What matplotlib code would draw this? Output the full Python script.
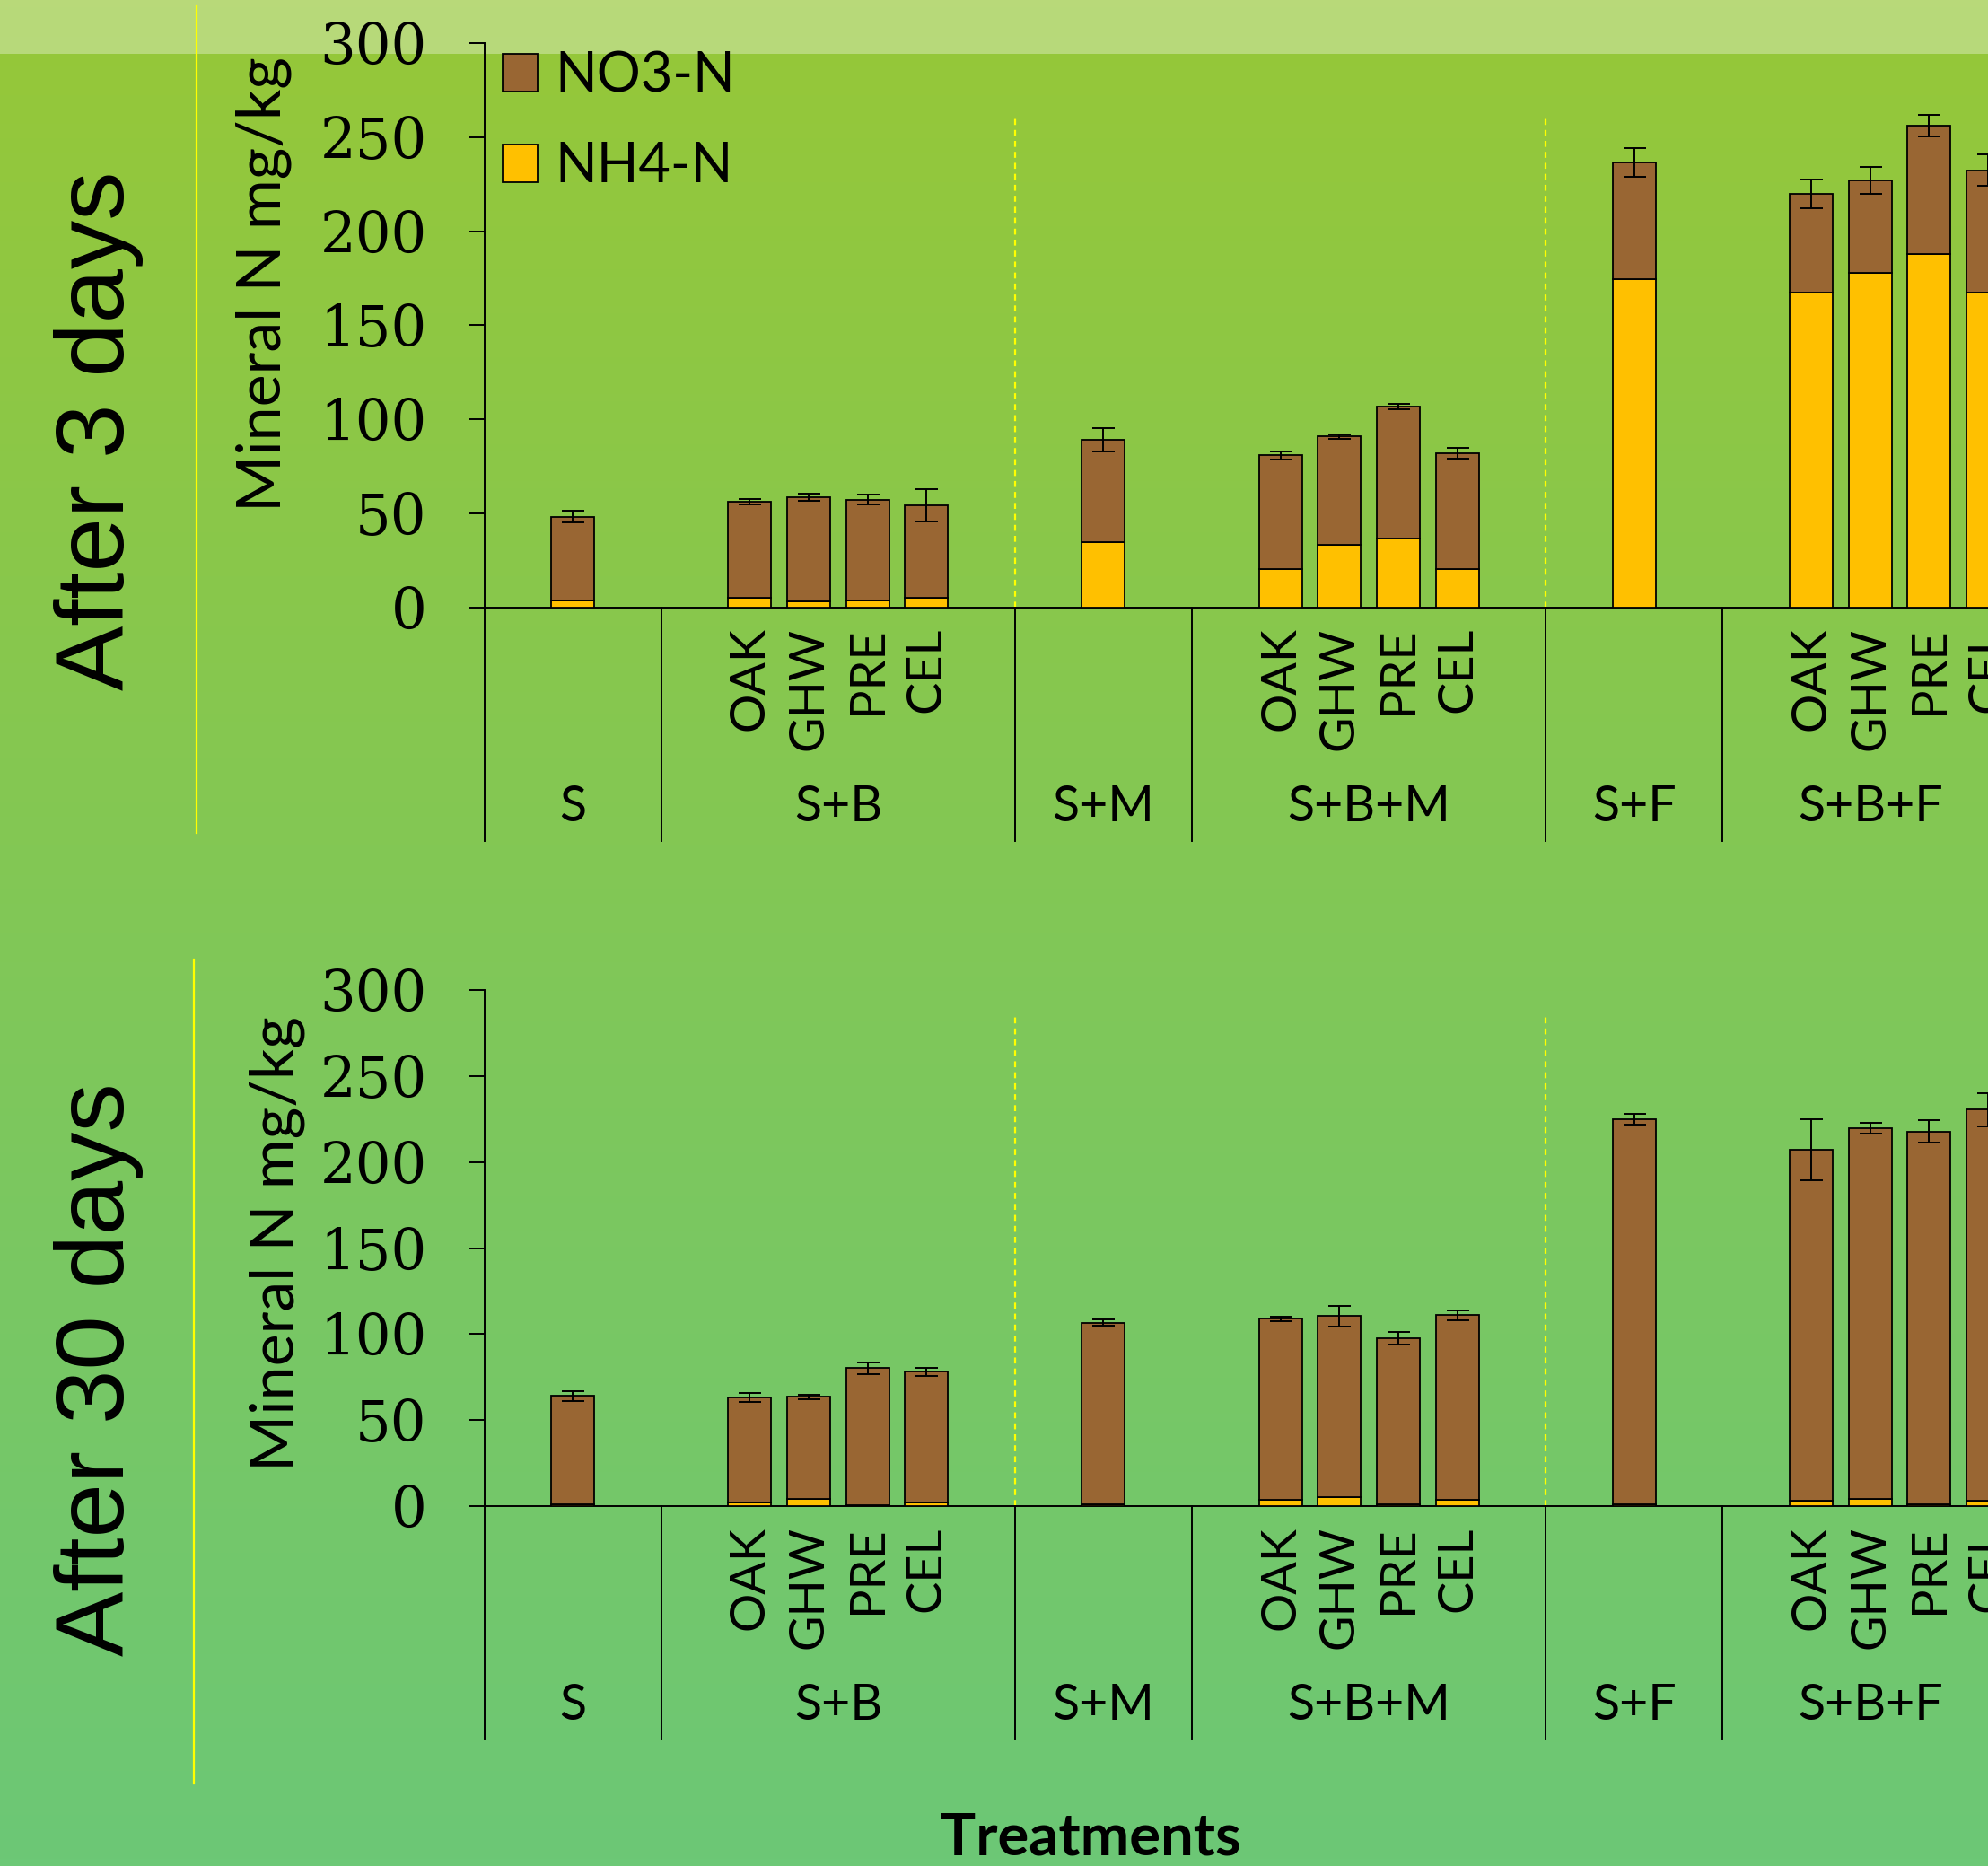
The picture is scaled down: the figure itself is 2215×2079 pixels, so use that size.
import numpy as np
import matplotlib.pyplot as plt
import matplotlib.transforms as mtransforms
from matplotlib.patches import Patch, Rectangle
from matplotlib.lines import Line2D

# =========================
# DATA (mg/kg)
# =========================
groups = ["S", "S+B", "S+M", "S+B+M", "S+F", "S+B+F"]
group_sizes = [3, 6, 3, 6, 3, 5]
biochars = ["OAK", "GHW", "PRE", "CEL"]

# after 3 days
nh4_3d = [3.8, 5.1, 3.2, 3.5, 4.8, 34.4, 20.4, 33.4, 36.6, 20.4, 174.6, 167.1, 177.7, 187.6, 167.1]
no3_3d = [44.3, 50.9, 55.5, 53.6, 49.3, 54.6, 60.3, 57.3, 70.0, 61.5, 62.0, 52.8, 49.4, 68.5, 65.2]
err_3d = [3.2, 1.3, 1.9, 2.6, 8.7, 6.4, 2.1, 1.1, 1.5, 2.9, 7.8, 7.5, 7.1, 5.7, 8.3]

# after 30 days
nh4_30d = [1.2, 2.1, 4.3, 0.5, 2.1, 1.2, 3.5, 5.3, 1.2, 3.5, 1.2, 3.3, 3.9, 0.8, 3.3]
no3_30d = [62.8, 61.1, 59.3, 79.6, 76.1, 105.5, 105.3, 105.1, 96.5, 107.4, 223.6, 204.0, 216.0, 217.0, 227.1]
err_30d = [2.8, 2.5, 1.3, 3.4, 2.3, 1.9, 1.5, 5.9, 3.7, 3.1, 3.0, 17.8, 3.1, 6.7, 9.6]

yticks = [0, 50, 100, 150, 200, 250, 300]

# =========================
# STYLE
# =========================
W, H, DPI = 2215, 2079, 100
C_NO3 = "#996633"
C_NH4 = "#FFC000"
SANS = ["Lato", "DejaVu Sans"]
SERIF = ["DejaVu Serif"]

# slot positions of the bars (excel-like multi level axis)
positions, sublabels, boundaries, centers = [], [], [], []
start = 0
for g, n in zip(groups, group_sizes):
    if n == 3:
        positions.append(start + 1)
        sublabels.append("")
    else:
        positions += [start + 1 + i for i in range(4)]
        sublabels += biochars
    centers.append(start + (n - 1) / 2)
    boundaries.append(start - 0.5)
    start += n
boundaries.append(start - 0.5)
positions = np.array(positions)

fig = plt.figure(figsize=(W / DPI, H / DPI), dpi=DPI)

# background gradient + light band at top
bg = fig.add_axes([0, 0, 1, 1], zorder=-10)
top_c = np.array([150, 199, 56]) / 255
bot_c = np.array([108, 200, 118]) / 255
t = np.linspace(0, 1, 256)[:, None, None]
grad = top_c * (1 - t) + bot_c * t
bg.imshow(grad, aspect="auto", extent=[0, 1, 0, 1])
bg.add_patch(Rectangle((0, 1 - 60 / H), 1, 60 / H, color="white", alpha=0.33, lw=0))
bg.add_line(Line2D([0.0989, 0.0989], [0.5537, 0.9966], color="#ffff00", lw=1.6))
bg.add_line(Line2D([0.0976, 0.0976], [0.0442, 0.4857], color="#ffff00", lw=1.6))
bg.set_xlim(0, 1)
bg.set_ylim(0, 1)
bg.axis("off")


def panel(rect, nh4, no3, err, dash_top, title, title_y, ylab_xy, legend=False):
    ax = fig.add_axes(rect)
    ax.set_facecolor("none")
    nh4 = np.array(nh4)
    no3 = np.array(no3)
    ax.bar(positions, nh4, width=0.73, color=C_NH4, edgecolor="black", lw=1.3, label="NH4-N", zorder=3)
    ax.bar(positions, no3, width=0.73, bottom=nh4, color=C_NO3, edgecolor="black", lw=1.3,
           label="NO3-N", zorder=3)
    ax.errorbar(positions, nh4 + no3, yerr=err, fmt="none", ecolor="black", elinewidth=1.4,
                capsize=9, capthick=1.4, zorder=4)

    ax.set_xlim(-0.5, 24.91)
    ax.set_ylim(0, 300)
    ax.set_yticks(yticks)
    ax.tick_params(axis="y", direction="out", length=12, width=1.4, pad=34, labelsize=45)
    for lb in ax.get_yticklabels():
        lb.set_family(SERIF)
    ax.set_xticks(positions, sublabels, rotation=90, fontsize=39, family=SANS, va="top")
    ax.tick_params(axis="x", length=0, pad=16)
    for s in ["top", "right"]:
        ax.spines[s].set_visible(False)
    for s in ["left", "bottom"]:
        ax.spines[s].set_linewidth(1.4)

    ax.vlines([boundaries[2], boundaries[4]], 0, dash_top, colors="#ffff00", lw=1.6,
              linestyles=(0, (3, 2.5)), zorder=2)

    # group dividers and group labels below the axis
    ax_h = rect[3] * H
    trans = mtransforms.blended_transform_factory(ax.transData, ax.transAxes)
    drop = 260 / ax_h
    for b in boundaries:
        ax.plot([b, b], [0, -drop], color="black", lw=1.4, transform=trans, clip_on=False)
    for g, c in zip(groups, centers):
        ax.text(c, -223 / ax_h, g, transform=trans, ha="center", va="center", fontsize=40,
                family=SANS)

    ax.set_ylabel("Mineral N mg/kg", fontsize=49, family=SANS, va="center")
    ax.yaxis.set_label_coords(*ylab_xy)

    fig.text(0.0497, title_y, title, rotation=90, ha="center", va="center", fontsize=78,
             family=["Liberation Sans", "DejaVu Sans"])

    if legend:
        handles = [Patch(facecolor=C_NO3, edgecolor="black", lw=1.3, label="NO3-N"),
                   Patch(facecolor=C_NH4, edgecolor="black", lw=1.3, label="NH4-N")]
        ax.legend(handles=handles, loc="upper left", bbox_to_anchor=(0.2526, 0.973),
                  bbox_transform=fig.transFigure, frameon=False,
                  prop={"family": SANS, "size": 44}, borderpad=0, borderaxespad=0,
                  handlelength=0.65, handleheight=0.69, handletextpad=0.32, labelspacing=0.72)
    return ax


panel([0.2436, 0.6746, 0.7564, 0.3023], nh4_3d, no3_3d, err_3d, 262, "After 3 days", 0.769,
      (-0.1467, 0.573), legend=True)
panel([0.2436, 0.1929, 0.7564, 0.2765], nh4_30d, no3_30d, err_30d, 287, "After 30 days", 0.2663,
      (-0.138, 0.5086))

fig.text(0.5485, 0.0149, "Treatments", ha="center", va="center", fontsize=47, fontweight="bold",
         family=SANS)

fig.savefig("out.png", dpi=DPI)
